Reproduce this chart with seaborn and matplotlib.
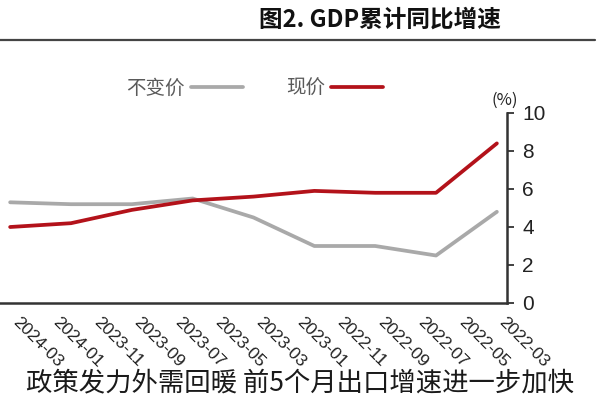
import matplotlib
matplotlib.use("Agg")
import matplotlib.pyplot as plt
from matplotlib.lines import Line2D
import seaborn as sns
import pandas as pd

title = "图2. GDP累计同比增速"
caption = "政策发力外需回暖 前5个月出口增速进一步加快"
unit_label = "(%)"
series_names = ["不变价", "现价"]
quarters = ["2022-03", "2022-06", "2022-09", "2022-12", "2023-03",
            "2023-06", "2023-09", "2023-12", "2024-03"]
real_growth = [4.8, 2.5, 3.0, 3.0, 4.5, 5.5, 5.2, 5.2, 5.3]
nominal_growth = [8.4, 5.8, 5.8, 5.9, 5.6, 5.4, 4.9, 4.2, 4.0]
tick_labels = ["2022-03", "2022-05", "2022-07", "2022-09", "2022-11",
               "2023-01", "2023-03", "2023-05", "2023-07", "2023-09",
               "2023-11", "2024-01", "2024-03"]
y_ticks = [0, 2, 4, 6, 8, 10]


def month_index(s):
    y, m = map(int, s.split("-"))
    return (y - 2022) * 12 + (m - 3)


df = pd.DataFrame({
    "x": [month_index(q) + 0.5 for q in quarters] * 2,
    "value": real_growth + nominal_growth,
    "series": [series_names[0]] * len(quarters) + [series_names[1]] * len(quarters),
})

sns.set_theme(style="white")
plt.rcParams['font.family'] = ['Noto Sans CJK SC', 'DejaVu Sans']

fig = plt.figure(figsize=(6, 4), dpi=100)
ax = fig.add_axes([0.0, 0.2425, 0.845, 0.475])
palette = {series_names[0]: "#A9A9A9", series_names[1]: "#B3121A"}
sns.lineplot(data=df, x="x", y="value", hue="series", palette=palette,
             linewidth=2.7, ax=ax, legend=True)

handles, labels = ax.get_legend_handles_labels()
if ax.get_legend() is not None:
    ax.get_legend().remove()
fig.legend(handles, labels, ncol=2, markerfirst=False, frameon=False,
           loc="center", bbox_to_anchor=(0.425, 0.78), handlelength=2.7,
           columnspacing=2.2, handletextpad=0.3,
           prop={"family": ["Noto Sans CJK SC"], "size": 14},
           labelcolor="#5a5a5a")

ax.set_xlim(25, 0)
ax.set_ylim(0, 10)
ax.yaxis.tick_right()
ax.set_yticks(y_ticks)
ax.set_yticklabels([str(v) for v in y_ticks], fontfamily="Liberation Sans",
                   fontsize=15, color="#222222")
ax.set_xticks([month_index(t) for t in tick_labels])
ax.set_xticklabels(tick_labels, rotation=-45, ha="left", va="top",
                   rotation_mode="anchor", fontfamily="Liberation Sans",
                   fontsize=12.5, color="#222222")
ax.set_xlabel("")
ax.set_ylabel("")
for s in ["top", "left"]:
    ax.spines[s].set_visible(False)
for s in ["right", "bottom"]:
    ax.spines[s].set_color("#333333")
    ax.spines[s].set_linewidth(1.8)
ax.tick_params(axis="both", direction="out", length=5, width=1.3,
               color="#333333", pad=3)
ax.tick_params(axis="y", pad=6)

fig.text(0.835, 0.95, title, ha="right", va="center", fontsize=17,
         fontweight="bold", color="#111111")
fig.add_artist(Line2D([0.0, 0.992], [0.9, 0.9], transform=fig.transFigure,
                      color="#444444", linewidth=1.6))
fig.text(0.842, 0.75, unit_label, ha="center", va="center", fontsize=12,
         color="#222222")
fig.text(0.5, 0.0425, caption, ha="center", va="center", fontsize=19,
         color="#1a1a1a")

fig.savefig("out.png", dpi=100)
